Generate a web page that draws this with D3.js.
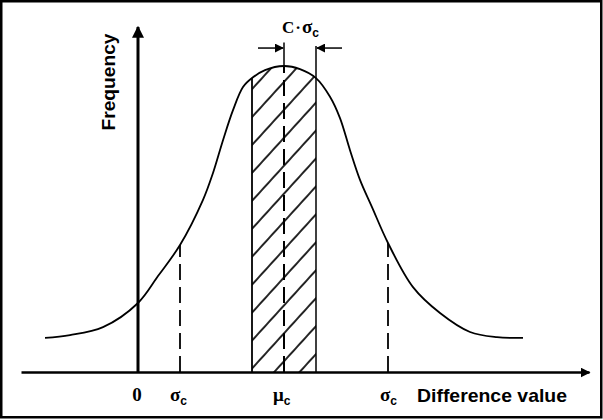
<!DOCTYPE html>
<html>
<head>
<meta charset="utf-8">
<script src="https://cdn.jsdelivr.net/npm/d3@7"></script>
<style>
  body { margin: 0; background: #fff; }
  svg { display: block; }
</style>
</head>
<body>
<svg class="dist" width="603" height="420"></svg>
<script>
// curve (difference value, frequency)
const curveX = [-9.3, -6.8, -3.5, 0, 2.0, 4.2, 6.5, 7.5, 8.5, 9.5, 10.5, 11.4, 12.7, 14.6, 16.2, 17.8, 19.2, 20.2, 21.2, 22.2, 23.4, 25.0, 27.5, 30.2, 33.2, 35.9, 38.5];
const curveY = [9.9, 10.7, 13.0, 20.0, 27.8, 36.8, 49.9, 57.7, 67.2, 75.9, 82.6, 85.2, 87.5, 88.7, 87.8, 85.2, 79.8, 73.6, 64.3, 55.7, 47.8, 37.4, 24.6, 17.1, 11.6, 10.1, 9.9];

// marked positions on the x axis
const zeroX = 0;
const muX = 14.6;
const sigmaXs = [4.2, 25.0];
const bandX = [11.4, 17.8];

const xDomain = [-11.7, 45.1];
const yDomain = [0, 100];

const svg = d3.select("svg.dist");
const W = +svg.attr("width"), H = +svg.attr("height");

const xScale = d3.scaleLinear().domain(xDomain).range([21, 589]);
const yScale = d3.scaleLinear().domain(yDomain).range([372, 27]);

const data = curveX.map((x, i) => ({ x: x, y: curveY[i] }));

// value of the curve at x (lookup between read points)
function curveAt(x) {
  for (let i = 0; i < data.length - 1; i++) {
    if (x >= data[i].x && x <= data[i + 1].x) {
      const t = (x - data[i].x) / (data[i + 1].x - data[i].x);
      return data[i].y + t * (data[i + 1].y - data[i].y);
    }
  }
  return 0;
}

const defs = svg.append("defs");

defs.append("marker")
  .attr("id", "arrow")
  .attr("viewBox", "0 0 10 10")
  .attr("refX", 9)
  .attr("refY", 5)
  .attr("markerWidth", 4)
  .attr("markerHeight", 4)
  .attr("markerUnits", "strokeWidth")
  .attr("orient", "auto")
  .append("path")
  .attr("d", "M0,0L10,5L0,10Z")
  .attr("fill", "#000");

defs.append("marker")
  .attr("id", "arrowSmall")
  .attr("viewBox", "0 0 10 10")
  .attr("refX", 9)
  .attr("refY", 5)
  .attr("markerWidth", 6)
  .attr("markerHeight", 6)
  .attr("markerUnits", "strokeWidth")
  .attr("orient", "auto")
  .append("path")
  .attr("d", "M0,0L10,5L0,10Z")
  .attr("fill", "#000");

const hatch = defs.append("pattern")
  .attr("id", "hatch")
  .attr("patternUnits", "userSpaceOnUse")
  .attr("width", 18.8)
  .attr("height", 40)
  .attr("patternTransform", "rotate(42.3)");
hatch.append("line")
  .attr("x1", 2).attr("y1", 0)
  .attr("x2", 2).attr("y2", 40)
  .attr("stroke", "#000")
  .attr("stroke-width", 1.7);

defs.append("clipPath")
  .attr("id", "bandClip")
  .append("rect")
  .attr("x", xScale(bandX[0]))
  .attr("y", 0)
  .attr("width", xScale(bandX[1]) - xScale(bandX[0]))
  .attr("height", yScale(0));

// frame
svg.append("rect")
  .attr("x", 1.25).attr("y", 1.25)
  .attr("width", W - 3).attr("height", H - 4)
  .attr("fill", "none")
  .attr("stroke", "#000")
  .attr("stroke-width", 2.5);

// hatched band under the curve
const area = d3.area()
  .curve(d3.curveCatmullRom)
  .x(d => xScale(d.x))
  .y0(yScale(0))
  .y1(d => yScale(d.y));

svg.append("g")
  .attr("clip-path", "url(#bandClip)")
  .append("path")
  .datum(data)
  .attr("d", area)
  .attr("fill", "url(#hatch)");

// the curve
const line = d3.line()
  .curve(d3.curveCatmullRom)
  .x(d => xScale(d.x))
  .y(d => yScale(d.y));

svg.append("path")
  .datum(data)
  .attr("d", line)
  .attr("fill", "none")
  .attr("stroke", "#000")
  .attr("stroke-width", 1.8);

// band edges
svg.append("line")
  .attr("x1", xScale(bandX[0])).attr("x2", xScale(bandX[0]))
  .attr("y1", yScale(0)).attr("y2", yScale(curveAt(bandX[0])))
  .attr("stroke", "#000").attr("stroke-width", 1.8);

svg.append("line")
  .attr("x1", xScale(bandX[1])).attr("x2", xScale(bandX[1]))
  .attr("y1", yScale(0)).attr("y2", yScale(94.5))
  .attr("stroke", "#000").attr("stroke-width", 1.5);

// mean line, dashed below the curve, solid marker above
svg.append("line")
  .attr("x1", xScale(muX)).attr("x2", xScale(muX))
  .attr("y1", yScale(0)).attr("y2", yScale(curveAt(muX)))
  .attr("stroke", "#000").attr("stroke-width", 2)
  .attr("stroke-dasharray", "16,7");

svg.append("line")
  .attr("x1", xScale(muX)).attr("x2", xScale(muX))
  .attr("y1", yScale(curveAt(muX))).attr("y2", yScale(95.5))
  .attr("stroke", "#000").attr("stroke-width", 1.5);

// sigma lines
svg.selectAll("line.sigma")
  .data(sigmaXs)
  .enter()
  .append("line")
  .attr("class", "sigma")
  .attr("x1", d => xScale(d)).attr("x2", d => xScale(d))
  .attr("y1", yScale(0)).attr("y2", d => yScale(curveAt(d)))
  .attr("stroke", "#000").attr("stroke-width", 1.8)
  .attr("stroke-dasharray", "16,7");

// width arrows  ->|   |<-
const arrowY = yScale(93.9);
svg.append("line")
  .attr("x1", xScale(muX - 2.6)).attr("x2", xScale(muX) - 1)
  .attr("y1", arrowY).attr("y2", arrowY)
  .attr("stroke", "#000").attr("stroke-width", 1.5)
  .attr("marker-end", "url(#arrowSmall)");
svg.append("line")
  .attr("x1", xScale(bandX[1] + 2.6)).attr("x2", xScale(bandX[1]) + 1)
  .attr("y1", arrowY).attr("y2", arrowY)
  .attr("stroke", "#000").attr("stroke-width", 1.5)
  .attr("marker-end", "url(#arrowSmall)");

const cLabel = svg.append("text")
  .attr("x", xScale(muX) - 2)
  .attr("y", 33)
  .attr("font-family", "Liberation Serif")
  .attr("font-weight", "bold")
  .attr("font-size", 17)
  .attr("fill", "#000");
cLabel.append("tspan").text("C");
cLabel.append("tspan").attr("dx", 1).text("·");
cLabel.append("tspan").attr("dx", 1).attr("font-size", 19).text("σ");
cLabel.append("tspan")
  .attr("dy", 4)
  .attr("font-family", "Liberation Sans")
  .attr("font-size", 12)
  .text("c");

// axes
const xAxis = d3.axisBottom(xScale).ticks(0).tickSizeOuter(0);
const yAxis = d3.axisLeft(yScale).ticks(0).tickSizeOuter(0);

svg.append("g")
  .attr("class", "x axis")
  .attr("transform", `translate(0, ${yScale(0)})`)
  .call(xAxis)
  .call(g => g.select(".domain")
    .attr("stroke", "#000")
    .attr("stroke-width", 2.5)
    .attr("marker-end", "url(#arrow)"));

svg.append("g")
  .attr("class", "y axis")
  .attr("transform", `translate(${xScale(zeroX)}, 0)`)
  .call(yAxis)
  .call(g => g.select(".domain")
    .attr("d", `M0,${yScale(0)}V${yScale(yDomain[1])}`)
    .attr("stroke", "#000")
    .attr("stroke-width", 3)
    .attr("marker-end", "url(#arrow)"));

// axis labels
svg.append("text")
  .attr("transform", `translate(115, 82) rotate(-90)`)
  .attr("text-anchor", "middle")
  .attr("font-family", "Liberation Sans")
  .attr("font-weight", "bold")
  .attr("font-size", 19)
  .attr("textLength", 97)
  .attr("lengthAdjust", "spacingAndGlyphs")
  .text("Frequency");

svg.append("text")
  .attr("x", 417)
  .attr("y", 402)
  .attr("font-family", "Liberation Sans")
  .attr("font-weight", "bold")
  .attr("font-size", 19)
  .attr("textLength", 150)
  .attr("lengthAdjust", "spacingAndGlyphs")
  .text("Difference value");

svg.append("text")
  .attr("x", xScale(zeroX) - 1)
  .attr("y", 401)
  .attr("text-anchor", "middle")
  .attr("font-family", "Liberation Serif")
  .attr("font-weight", "bold")
  .attr("font-size", 19)
  .text("0");

const greek = [
  { x: sigmaXs[0], s: "σ", dx: -10 },
  { x: muX, s: "μ", dx: -11 },
  { x: sigmaXs[1], s: "σ", dx: -8 }
];

const gl = svg.selectAll("text.greek")
  .data(greek)
  .enter()
  .append("text")
  .attr("class", "greek")
  .attr("x", d => xScale(d.x) + d.dx)
  .attr("y", 401)
  .attr("font-family", "Liberation Serif")
  .attr("font-weight", "bold")
  .attr("font-size", 19)
  .attr("fill", "#000");
gl.append("tspan").text(d => d.s);
gl.append("tspan")
  .attr("dy", 4)
  .attr("font-family", "Liberation Sans")
  .attr("font-size", 12)
  .text("c");
</script>
</body>
</html>
